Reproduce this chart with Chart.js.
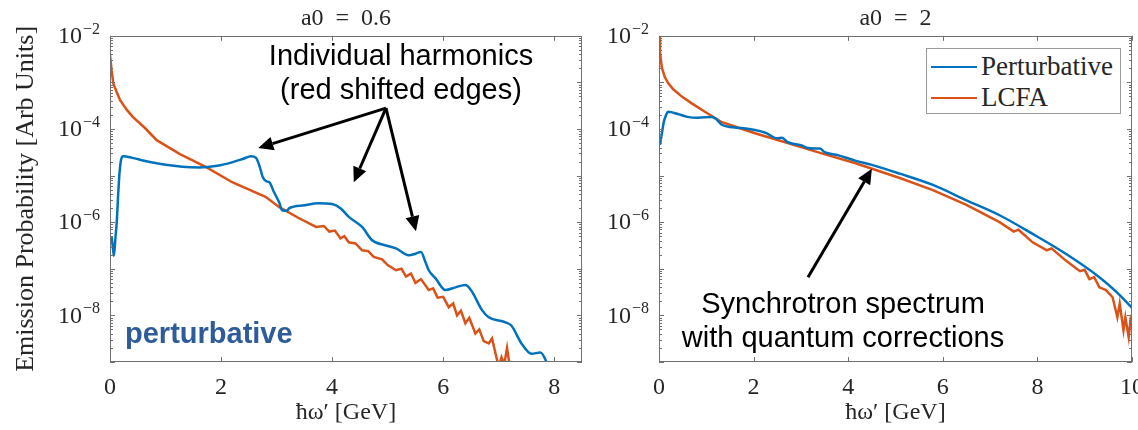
<!DOCTYPE html>
<html>
<head>
<meta charset="utf-8">
<script src="https://cdn.jsdelivr.net/npm/chart.js@4.4.1/dist/chart.umd.min.js"></script>
<style>
  html, body { margin: 0; padding: 0; background: #fff; }
  #wrap { position: relative; width: 1138px; height: 430px; overflow: hidden; }
  .box { position: absolute; top: 0; height: 430px; }
  #boxLeft { left: 0; width: 592px; }
  #boxRight { left: 592px; width: 546px; }
  .note { position: absolute; font-family: 'Liberation Sans', Arial, sans-serif; font-size: 29px; line-height: 34px;
          color: #000; text-align: center; white-space: nowrap; transform: translateX(-50%); }
  .pert { position: absolute; left: 125px; top: 316px; font-family: 'Liberation Sans', Arial, sans-serif;
          font-size: 29px; line-height: 34px; font-weight: bold; color: #2E5C9A; }
  .legend { position: absolute; left: 926px; top: 48px; width: 193px; height: 64px; border: 1px solid #9a9a9a; background: #fff; }
  .legend .sw { position: absolute; left: 4px; width: 46px; height: 0; border-top: 2.5px solid; }
  .legend .lb { position: absolute; left: 54px; font-family: 'Liberation Serif', serif; font-size: 27px; line-height: 30px; color: #262626; }
</style>
</head>
<body>
<div id="wrap">
  <div class="box" id="boxLeft"><canvas id="chartA06"></canvas></div>
  <div class="box" id="boxRight"><canvas id="chartA2"></canvas></div>

  <div class="note" style="left:401px; top:38px;">Individual harmonics<br>(red shifted edges)</div>
  <div class="pert">perturbative</div>
  <div class="note" style="left:843px; top:286px;">Synchrotron spectrum<br>with quantum corrections</div>

  <div class="legend">
    <div class="sw" style="top:17px; border-color:#0072BD"></div>
    <div class="lb" style="top:2px">Perturbative</div>
    <div class="sw" style="top:48px; border-color:#D95319"></div>
    <div class="lb" style="top:33px">LCFA</div>
  </div>
</div>

<script>
// ---- a0 = 0.6 : perturbative (blue) ----
const a06PertX = [0.03, 0.05, 0.07, 0.10, 0.12, 0.15, 0.17, 0.20, 0.24, 0.40, 0.72, 1.0, 1.3, 1.61, 1.9, 2.21, 2.4, 2.54,
  2.63, 2.70, 2.75, 2.82, 2.87, 2.95, 3.05, 3.10, 3.18, 3.23, 3.5, 3.75, 4.0, 4.15, 4.3, 4.54, 4.72, 4.95, 5.15, 5.38,
  5.5, 5.6, 5.68, 5.74, 5.86, 6.04, 6.22, 6.4, 6.5, 6.7, 6.82, 7.12, 7.23, 7.41, 7.59, 7.75, 7.86, 7.9];
const a06PertY = [4.8e-7, 3.0e-7, 1.9e-7, 5.0e-7, 9.5e-7, 4.5e-6, 1.1e-5, 2.2e-5, 2.6e-5, 2.4e-5, 1.95e-5, 1.7e-5, 1.55e-5, 1.5e-5, 1.6e-5, 1.95e-5, 2.3e-5, 2.6e-5,
  2.4e-5, 1.5e-5, 9.3e-6, 7.5e-6, 7.2e-6, 4.5e-6, 2.6e-6, 1.8e-6, 1.75e-6, 2.0e-6, 2.3e-6, 2.55e-6, 2.45e-6, 2.0e-6, 1.3e-6, 7.9e-7, 4.1e-7, 3.2e-7, 2.75e-7, 1.95e-7,
  2.1e-7, 2.3e-7, 1.4e-7, 9.3e-8, 6.3e-8, 3.5e-8, 4.0e-8, 4.5e-8, 3.5e-8, 1.3e-8, 9.1e-9, 7.1e-9, 6.0e-9, 2.5e-9, 1.5e-9, 1.6e-9, 1.0e-9, 7.0e-10];

// ---- a0 = 0.6 : LCFA (orange) ----
const a06LcfaX = [0, 0.03, 0.06, 0.10, 0.18, 0.30, 0.41, 0.63, 0.84, 1.26, 1.74, 2.2, 2.8, 3.05, 3.38, 3.71, 3.85, 3.95, 4.05,
  4.15, 4.22, 4.3, 4.42, 4.54, 4.65, 4.75, 4.9, 5.0, 5.15, 5.25, 5.33, 5.42, 5.5, 5.6, 5.74, 5.82, 5.9, 6.0, 6.1, 6.18,
  6.25, 6.32, 6.4, 6.47, 6.58, 6.65, 6.73, 6.82, 6.88, 6.95, 7.0, 7.05, 7.1, 7.15, 7.2];
const a06LcfaY = [3.9e-3, 1.78e-3, 9.5e-4, 7.1e-4, 4.2e-4, 2.6e-4, 1.82e-4, 1.05e-4, 5.75e-5, 2.9e-5, 1.5e-5, 7.2e-6, 3.5e-6, 2.1e-6, 1.26e-6, 7.9e-7, 8.3e-7, 6.3e-7, 6.6e-7,
  4.5e-7, 5.0e-7, 3.7e-7, 3.5e-7, 2.5e-7, 2.4e-7, 1.8e-7, 1.6e-7, 1.2e-7, 9.3e-8, 1.0e-7, 6.8e-8, 7.9e-8, 5.0e-8, 6.0e-8, 3.5e-8, 3.8e-8, 2.4e-8, 2.5e-8, 1.5e-8, 1.8e-8,
  1.0e-8, 1.26e-8, 6.8e-9, 8.9e-9, 4.1e-9, 5.0e-9, 2.8e-9, 2.5e-9, 3.2e-9, 1.4e-9, 8.0e-10, 1.26e-9, 9.0e-10, 2.0e-9, 8.0e-10];

// ---- a0 = 2 : perturbative (blue) ----
const a2PertX = [0.02, 0.06, 0.10, 0.15, 0.19, 0.4, 0.6, 0.82, 1.12, 1.2, 1.33, 1.5, 1.75, 2.03, 2.25, 2.5, 2.6, 2.72, 3.0, 3.15,
  3.3, 3.4, 3.5, 3.78, 4.15, 4.5, 5.09, 5.79, 6.5, 7.2, 7.9, 8.6, 9.31, 9.67, 10.0];
const a2PertY = [4.6e-5, 7.9e-5, 1.4e-4, 2.0e-4, 2.35e-4, 2.1e-4, 1.82e-4, 1.74e-4, 1.82e-4, 1.66e-4, 1.23e-4, 1.1e-4, 1.05e-4, 9.5e-5, 8.3e-5, 6.3e-5, 6.5e-5, 5.2e-5, 4.5e-5, 3.9e-5,
  3.8e-5, 3.8e-5, 3.2e-5, 2.75e-5, 2.1e-5, 1.7e-5, 1.1e-5, 6.3e-6, 2.95e-6, 1.41e-6, 5.6e-7, 2.1e-7, 6.6e-8, 3.2e-8, 1.45e-8];

// ---- a0 = 2 : LCFA (orange) ----
const a2LcfaX = [0, 0.02, 0.06, 0.12, 0.19, 0.3, 0.49, 0.7, 0.97, 1.33, 1.7, 2.03, 2.72, 3.44, 4.14, 5.09, 5.79, 6.5, 7.2, 7.5,
  7.6, 7.9, 8.2, 8.3, 8.6, 8.9, 9.0, 9.1, 9.2, 9.31, 9.45, 9.59, 9.69, 9.74, 9.82, 9.86, 9.93, 9.97, 10.0];
const a2LcfaY = [9.5e-3, 4.5e-3, 2.1e-3, 1.32e-3, 9.8e-4, 7.1e-4, 4.9e-4, 3.5e-4, 2.35e-4, 1.4e-4, 1.05e-4, 8.1e-5, 5.0e-5, 3.0e-5, 1.86e-5, 8.9e-6, 4.9e-6, 2.35e-6, 1.0e-6, 6.3e-7,
  6.9e-7, 3.7e-7, 2.5e-7, 2.75e-7, 1.5e-7, 8.9e-8, 9.5e-8, 6.0e-8, 6.6e-8, 4.0e-8, 3.5e-8, 2.45e-8, 9.1e-9, 1.8e-8, 4.8e-9, 9.1e-9, 3.4e-9, 7.9e-9, 6.3e-9];

// ticks and annotation anchors (data units)
const xTicks = [0, 2, 4, 6, 8, 10];
const yTickExp = [-8, -6, -4, -2];
const a06Arrows = [
  { from: [4.97, 2.8e-4], to: [2.67, 3.9e-5] },
  { from: [4.97, 2.8e-4], to: [4.39, 7.2e-6] },
  { from: [4.97, 2.8e-4], to: [5.51, 6.4e-7] }
];
const a2Arrows = [
  { from: [3.15, 6.6e-8], to: [4.5, 1.4e-5] }
];

const BLUE = '#0072BD', ORANGE = '#D95319', AXIS = '#262626';
const SERIF = "'Liberation Serif', 'Times New Roman', serif";

function pts(xs, ys) { return xs.map((x, i) => ({ x: x, y: ys[i] })); }

// inward MATLAB-like ticks, box frame and 10^n labels
const frameTicks = {
  id: 'frameTicks',
  afterDatasetsDraw(chart) {
    const { ctx, chartArea: a, scales: { x, y } } = chart;
    ctx.save();
    ctx.strokeStyle = '#707070';
    ctx.lineWidth = 1;
    ctx.beginPath();
    x.ticks.forEach(t => {
      const px = Math.round(x.getPixelForValue(t.value)) + 0.5;
      ctx.moveTo(px, a.bottom); ctx.lineTo(px, a.bottom - 5);
      ctx.moveTo(px, a.top); ctx.lineTo(px, a.top + 5);
    });
    for (let d = -9; d < -2; d++) {
      for (let k = 1; k < 10; k++) {
        const py = Math.round(y.getPixelForValue(k * Math.pow(10, d))) + 0.5;
        const len = k === 1 ? 5 : 3;
        ctx.moveTo(a.left, py); ctx.lineTo(a.left + len, py);
        ctx.moveTo(a.right, py); ctx.lineTo(a.right - len, py);
      }
    }
    ctx.stroke();
    ctx.strokeRect(Math.round(a.left) + 0.5, Math.round(a.top) + 0.5, Math.round(a.width) - 1, Math.round(a.height) - 1);

    // y labels: "10" with raised exponent
    ctx.fillStyle = AXIS;
    ctx.textAlign = 'right';
    yTickExp.forEach(e => {
      const py = y.getPixelForValue(Math.pow(10, e));
      const exp = '\u2212' + String(-e);
      ctx.font = '16px ' + SERIF;
      ctx.textBaseline = 'alphabetic';
      const ew = ctx.measureText(exp).width;
      const right = a.left - 10;
      ctx.fillText(exp, right, py - 2);
      ctx.font = '24px ' + SERIF;
      ctx.textBaseline = 'middle';
      ctx.fillText('10', right - ew - 1, py + 1);
    });
    ctx.restore();
  }
};

// black annotation arrows, ends given in data coordinates
const arrows = {
  id: 'arrows',
  afterDraw(chart, args, opts) {
    const { ctx, scales: { x, y } } = chart;
    ctx.save();
    ctx.strokeStyle = '#000';
    ctx.fillStyle = '#000';
    ctx.lineWidth = 3;
    (opts.list || []).forEach(ar => {
      const x0 = x.getPixelForValue(ar.from[0]), y0 = y.getPixelForValue(ar.from[1]);
      const x1 = x.getPixelForValue(ar.to[0]), y1 = y.getPixelForValue(ar.to[1]);
      const ang = Math.atan2(y1 - y0, x1 - x0);
      const hl = 15, hw = 7;
      const bx = x1 - hl * Math.cos(ang), by = y1 - hl * Math.sin(ang);
      ctx.beginPath();
      ctx.moveTo(x0, y0); ctx.lineTo(bx, by);
      ctx.stroke();
      ctx.beginPath();
      ctx.moveTo(x1, y1);
      ctx.lineTo(bx + hw * Math.sin(ang), by - hw * Math.cos(ang));
      ctx.lineTo(bx - hw * Math.sin(ang), by + hw * Math.cos(ang));
      ctx.closePath();
      ctx.fill();
    });
    ctx.restore();
  }
};

function makeChart(id, title, xMax, blue, orange, yAxisWidth, showYTitle, arrowList, padRight) {
  return new Chart(document.getElementById(id), {
    type: 'scatter',
    data: {
      datasets: [
        { label: 'Perturbative', data: blue, showLine: true, borderColor: BLUE, borderWidth: 2.5,
          pointRadius: 0, cubicInterpolationMode: 'monotone' },
        { label: 'LCFA', data: orange, showLine: true, borderColor: ORANGE, borderWidth: 2.5,
          pointRadius: 0, tension: 0 }
      ]
    },
    options: {
      responsive: true, maintainAspectRatio: false, animation: false,
      layout: { padding: { left: 0, right: padRight, top: 0, bottom: 0 } },
      plugins: {
        legend: { display: false },
        tooltip: { enabled: false },
        title: { display: true, text: title, fullSize: false, color: AXIS,
                 font: { family: SERIF, size: 24, weight: 'normal' }, padding: { top: 4, bottom: 3 } },
        arrows: { list: arrowList }
      },
      scales: {
        x: {
          type: 'linear', min: 0, max: xMax,
          grid: { display: false }, border: { display: false },
          afterBuildTicks: s => { s.ticks = xTicks.filter(v => v <= xMax).map(v => ({ value: v })); },
          afterFit: s => { s.height = 68; s.paddingLeft = 0; s.paddingRight = 0; },
          ticks: { color: AXIS, padding: 3, maxRotation: 0, font: { family: SERIF, size: 24 } },
          title: { display: true, text: '\u0127\u03C9\u2032 [GeV]', color: AXIS,
                   font: { family: SERIF, size: 24 }, padding: { top: 0, bottom: 3 } }
        },
        y: {
          type: 'logarithmic', min: 1e-9, max: 1e-2,
          grid: { display: false }, border: { display: false },
          afterBuildTicks: s => { s.ticks = yTickExp.map(e => ({ value: Math.pow(10, e) })); },
          afterFit: s => { s.width = yAxisWidth; },
          ticks: { display: false },
          title: { display: showYTitle, text: 'Emission Probability [Arb Units]', color: AXIS,
                   font: { family: SERIF, size: 26 }, padding: { top: 11, bottom: 0 } }
        }
      }
    },
    plugins: [frameTicks, arrows]
  });
}

makeChart('chartA06', 'a0\u2002=\u20020.6', 8.5, pts(a06PertX, a06PertY), pts(a06LcfaX, a06LcfaY), 110, true, a06Arrows, 10);
makeChart('chartA2', 'a0\u2002=\u20022', 10, pts(a2PertX, a2PertY), pts(a2LcfaX, a2LcfaY), 67, false, a2Arrows, 6);
</script>
</body>
</html>
